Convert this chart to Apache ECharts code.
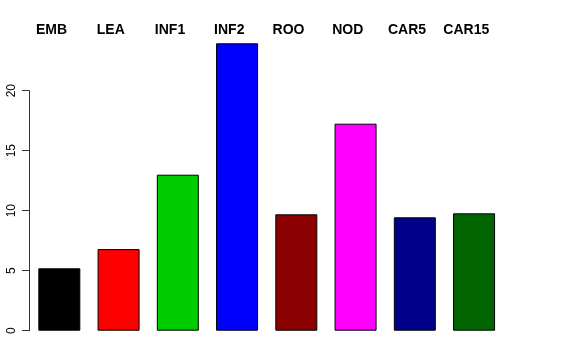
<!DOCTYPE html>
<html>
<head>
<meta charset="utf-8">
<script src="https://cdn.jsdelivr.net/npm/echarts@6/dist/echarts.min.js"></script>
<style>html,body{margin:0;padding:0;background:#fff}#c{width:576px;height:360px}</style>
</head>
<body>
<div id="c"></div>
<script>
var categories = ["EMB", "LEA", "INF1", "INF2", "ROO", "NOD", "CAR5", "CAR15"];
var values = [5.2, 6.8, 13.0, 23.95, 9.7, 17.25, 9.45, 9.78];
var barColors = ["#000000", "#FF0000", "#00CD00", "#0000FF", "#8B0000", "#FF00FF", "#00008B", "#006400"];
var yTicks = [0, 5, 10, 15, 20];

var chart = echarts.init(document.getElementById('c'), null, {renderer: 'canvas'});
var font = 'Liberation Sans, Arial, Helvetica, sans-serif';
chart.setOption({
  animation: false,
  backgroundColor: '#ffffff',
  grid: [
    {left: 29.7, width: 474, top: 30.7, height: 300},
    {left: 29, width: 474, top: 90.7, height: 240},
    {left: 21.9, width: 474, top: 40, height: 290.7}
  ],
  xAxis: [
    {type: 'category', gridIndex: 0, data: categories, show: false},
    {type: 'category', gridIndex: 1, data: categories, show: false},
    {type: 'category', gridIndex: 2, data: categories, position: 'top',
     axisLine: {show: false}, axisTick: {show: false},
     axisLabel: {show: true, interval: 0, margin: 3, color: '#000', fontWeight: 'bold', fontSize: 14, fontFamily: font}}
  ],
  yAxis: [
    {type: 'value', gridIndex: 0, min: 0, max: 25, show: false, splitLine: {show: false}},
    {type: 'value', gridIndex: 1, min: yTicks[0], max: yTicks[yTicks.length - 1], interval: 5,
     axisLine: {show: true, lineStyle: {color: '#333', width: 1}},
     axisTick: {show: true, length: 7, lineStyle: {color: '#333', width: 1}},
     splitLine: {show: false},
     axisLabel: {show: true, rotate: 90, margin: 11, color: '#000', fontSize: 12, fontFamily: font}},
    {type: 'value', gridIndex: 2, min: 0, max: 25, show: false, splitLine: {show: false}}
  ],
  series: [{
    type: 'bar',
    xAxisIndex: 0, yAxisIndex: 0,
    barWidth: 42,
    data: values.map(function (v, i) {
      return {value: v, itemStyle: {color: barColors[i], borderColor: '#000', borderWidth: 1}};
    })
  }]
});
</script>
</body>
</html>
